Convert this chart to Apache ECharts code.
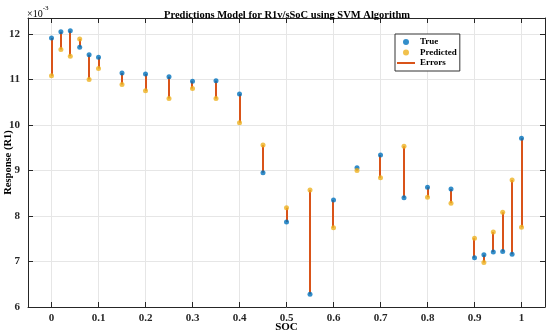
<!DOCTYPE html>
<html>
<head>
<meta charset="utf-8">
<script src="https://cdn.jsdelivr.net/npm/echarts@6/dist/echarts.min.js"></script>
<style>html,body{margin:0;padding:0;background:#fff;}#c{width:550px;height:336px;}</style>
</head>
<body>
<div id="c"></div>
<script>
// Data (values in units of 1e-3)
const soc = [0, 0.02, 0.04, 0.06, 0.08, 0.1, 0.15, 0.2, 0.25, 0.3, 0.35, 0.4, 0.45, 0.5, 0.55, 0.6, 0.65, 0.7, 0.75, 0.8, 0.85, 0.9, 0.92, 0.94, 0.96, 0.98, 1.0];
const trueVals = [11.91, 12.05, 12.07, 11.71, 11.54, 11.49, 11.14, 11.12, 11.06, 10.96, 10.97, 10.68, 8.95, 7.87, 6.28, 8.35, 9.06, 9.34, 8.40, 8.63, 8.59, 7.08, 7.15, 7.21, 7.22, 7.16, 9.71];
const predVals = [11.08, 11.66, 11.51, 11.89, 11.00, 11.24, 10.89, 10.75, 10.58, 10.80, 10.58, 10.05, 9.56, 8.18, 8.57, 7.74, 9.00, 8.84, 9.53, 8.41, 8.28, 7.51, 6.98, 7.65, 8.08, 8.79, 7.75];
const xTicks = [0, 0.1, 0.2, 0.3, 0.4, 0.5, 0.6, 0.7, 0.8, 0.9, 1];
const yTicks = [6, 7, 8, 9, 10, 11, 12];

const font = '"Liberation Serif", "Times New Roman", serif';
const axisColor = '#262626';
const gridColor = '#e6e6e6';

const chart = echarts.init(document.getElementById('c'), null, {renderer: 'canvas'});
const truePts = soc.map((s, i) => [s, trueVals[i]]);
const predPts = soc.map((s, i) => [s, predVals[i]]);
const errPts = soc.map((s, i) => [s, trueVals[i], predVals[i]]);

const labelStyle = {fontFamily: font, fontWeight: 'bold', fontSize: 11, color: '#262626'};

chart.setOption({
  animation: false,
  backgroundColor: '#fff',
  title: {
    text: 'Predictions Model for R1v/sSoC using SVM Algorithm',
    left: 282, top: 5, textAlign: 'center',
    textStyle: {fontFamily: font, fontWeight: 'bold', fontSize: 10.5, color: '#000'}
  },
  grid: {left: 28, right: 5, top: 18, bottom: 29, containLabel: false, outerBoundsMode: 'none'},
  legend: {
    orient: 'vertical', left: 395, top: 34,
    padding: [3, 3, 3, 2], itemGap: 0.5, itemWidth: 18, itemHeight: 6,
    borderColor: '#333', borderWidth: 1, backgroundColor: '#fff',
    textStyle: {fontFamily: font, fontWeight: 'bold', fontSize: 9, color: '#000', lineHeight: 10},
    data: [
      {name: 'True', icon: 'circle'},
      {name: 'Predicted', icon: 'circle'},
      {name: 'Errors', icon: 'path://M0,0L18,0L18,2L0,2Z'}
    ]
  },
  xAxis: [{
    type: 'value', min: -0.05, max: 1.05, position: 'bottom',
    name: 'SOC', nameLocation: 'middle', nameGap: 15, nameMoveOverlap: false,
    nameTextStyle: {fontFamily: font, fontWeight: 'bold', fontSize: 11, color: '#000'},
    axisLine: {show: true, onZero: false, lineStyle: {color: axisColor, width: 1}},
    axisTick: {show: true, inside: true, length: 5, customValues: xTicks, lineStyle: {color: axisColor}},
    axisLabel: {customValues: xTicks, margin: 6, formatter: v => String(+v.toFixed(2)), ...labelStyle},
    splitLine: {show: false}
  }, {
    type: 'value', min: -0.05, max: 1.05, position: 'top',
    axisLine: {show: true, onZero: false, lineStyle: {color: axisColor, width: 1}},
    axisTick: {show: true, inside: true, length: 5, customValues: xTicks, lineStyle: {color: axisColor}},
    axisLabel: {show: false},
    splitLine: {show: false}
  }],
  yAxis: [{
    type: 'value', min: 6, max: 12.35, interval: 1, position: 'left',
    name: 'Response (R1)', nameLocation: 'middle', nameGap: 14, nameMoveOverlap: false,
    nameTextStyle: {fontFamily: font, fontWeight: 'bold', fontSize: 10.5, color: '#000'},
    axisLine: {show: true, onZero: false, lineStyle: {color: axisColor, width: 1}},
    axisTick: {show: true, inside: true, length: 5, lineStyle: {color: axisColor}},
    axisLabel: {margin: 8, showMaxLabel: false, ...labelStyle},
    splitLine: {show: true, lineStyle: {color: gridColor, width: 1}}
  }, {
    type: 'value', min: 6, max: 12.35, interval: 1, position: 'right',
    axisLine: {show: true, onZero: false, lineStyle: {color: axisColor, width: 1}},
    axisTick: {show: true, inside: true, length: 5, lineStyle: {color: axisColor}},
    axisLabel: {show: false},
    splitLine: {show: false}
  }],
  graphic: [{
    type: 'text', left: 27, top: 5,
    style: {
      text: '{a|×10}{b|-3}',
      rich: {
        a: {fontFamily: font, fontSize: 10, color: '#262626', verticalAlign: 'bottom', padding: [4, 0, 0, 0]},
        b: {fontFamily: font, fontSize: 7, color: '#262626', verticalAlign: 'top'}
      }
    }
  }],
  series: [{
    name: 'grid', type: 'line', data: [], z: 0, silent: true,
    markLine: {
      silent: true, symbol: 'none', label: {show: false}, animation: false, z: 0,
      lineStyle: {color: gridColor, width: 1, type: 'solid'},
      data: xTicks.map(v => ({xAxis: v}))
    }
  }, {
    name: 'Errors', type: 'custom', z: 2,
    data: errPts,
    encode: {x: 0, y: [1, 2]},
    renderItem: function (params, api) {
      const p1 = api.coord([api.value(0), api.value(1)]);
      const p2 = api.coord([api.value(0), api.value(2)]);
      const x = Math.round(p1[0]);
      return {type: 'line', shape: {x1: x, y1: p1[1], x2: x, y2: p2[1]},
        style: {stroke: '#D95319', lineWidth: 2}};
    },
    itemStyle: {color: '#D95319'}
  }, {
    name: 'True', type: 'scatter', z: 3, symbol: 'circle', symbolSize: 5,
    data: truePts, itemStyle: {color: '#0072BD'}
  }, {
    name: 'Predicted', type: 'scatter', z: 3, symbol: 'circle', symbolSize: 5,
    data: predPts, itemStyle: {color: '#EDB120'}
  }]
});
</script>
</body>
</html>
